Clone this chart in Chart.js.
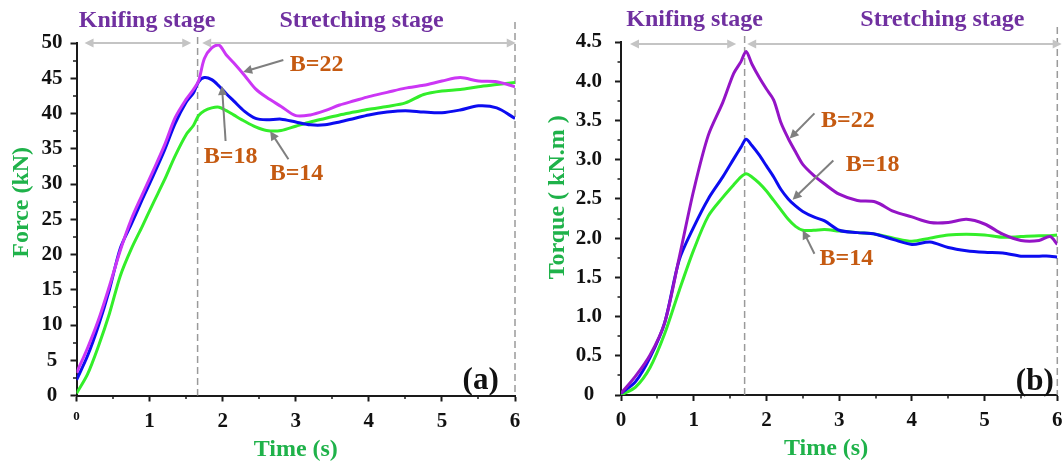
<!DOCTYPE html>
<html>
<head>
<meta charset="utf-8">
<script src="https://cdn.jsdelivr.net/npm/chart.js@4.4.1/dist/chart.umd.min.js"></script>
<style>
  html, body { margin: 0; padding: 0; background: #fff; overflow: hidden; width: 1062px; height: 461px; }
  canvas { position: absolute; top: 0; }
  #chart-a { left: 0; }
  #chart-b { left: 531px; }
</style>
</head>
<body>
<canvas id="chart-a" width="531" height="461"></canvas>
<canvas id="chart-b" width="560" height="461"></canvas>
<script>
// panel (a): force vs time
var timeA = [0, 0.15, 0.3, 0.45, 0.6, 0.75, 0.9, 1.05, 1.2, 1.35, 1.5, 1.6, 1.67, 1.75, 1.85, 1.95, 2.05, 2.15, 2.3, 2.45, 2.6, 2.8, 3.0, 3.2, 3.4, 3.6, 3.8, 4.0, 4.25, 4.5, 4.75, 5.0, 5.25, 5.5, 5.75, 6.0];
var forceB22 = [3.2, 6.7, 10.7, 15.5, 20.6, 25.0, 28.5, 31.9, 35.4, 39.4, 42.0, 43.4, 44.6, 47.8, 49.3, 49.7, 48.3, 47.2, 45.4, 43.5, 42.3, 41.0, 39.7, 39.8, 40.4, 41.2, 41.8, 42.4, 43.0, 43.6, 44.0, 44.6, 45.1, 44.6, 44.5, 43.8];
var forceB18 = [2.2, 5.6, 9.9, 15.0, 20.9, 24.3, 27.8, 31.2, 34.7, 38.6, 41.6, 42.9, 44.5, 45.1, 44.8, 43.9, 42.8, 41.8, 40.3, 39.3, 39.1, 39.2, 38.8, 38.4, 38.4, 38.8, 39.3, 39.8, 40.2, 40.4, 40.2, 40.1, 40.5, 41.1, 40.8, 39.3];
var forceB14 = [0.3, 3.0, 7.0, 11.6, 17.0, 20.8, 24.0, 27.3, 30.5, 34.0, 37.0, 38.3, 39.7, 40.4, 40.8, 40.9, 40.4, 39.8, 38.9, 38.1, 37.6, 37.6, 38.2, 38.8, 39.3, 39.8, 40.2, 40.6, 41.0, 41.5, 42.7, 43.2, 43.4, 43.8, 44.1, 44.4];

// panel (b): torque vs time
var timeB = [0, 0.2, 0.4, 0.6, 0.8, 1.0, 1.2, 1.4, 1.55, 1.65, 1.72, 1.8, 1.9, 2.0, 2.1, 2.2, 2.3, 2.4, 2.5, 2.65, 2.8, 3.0, 3.25, 3.5, 3.75, 4.0, 4.25, 4.5, 4.75, 5.0, 5.25, 5.5, 5.75, 5.9, 6.0];
var torqueB22 = [0.02, 0.24, 0.51, 0.92, 1.75, 2.61, 3.31, 3.73, 4.10, 4.25, 4.38, 4.22, 4.05, 3.90, 3.76, 3.47, 3.27, 3.10, 2.94, 2.80, 2.69, 2.56, 2.48, 2.46, 2.34, 2.27, 2.20, 2.20, 2.24, 2.18, 2.05, 1.97, 1.97, 2.02, 1.92];
var torqueB18 = [0.02, 0.17, 0.48, 0.92, 1.72, 2.14, 2.50, 2.78, 3.01, 3.16, 3.26, 3.18, 3.06, 2.92, 2.78, 2.62, 2.50, 2.41, 2.34, 2.27, 2.22, 2.10, 2.07, 2.05, 1.98, 1.92, 1.95, 1.88, 1.84, 1.82, 1.81, 1.77, 1.77, 1.77, 1.76];
var torqueB14 = [0.00, 0.10, 0.35, 0.78, 1.33, 1.85, 2.28, 2.52, 2.68, 2.78, 2.82, 2.78, 2.70, 2.60, 2.48, 2.36, 2.24, 2.15, 2.10, 2.10, 2.11, 2.09, 2.07, 2.05, 2.00, 1.96, 2.00, 2.04, 2.05, 2.04, 2.01, 2.02, 2.03, 2.03, 2.04];

var seriesLabels = ['B=22', 'B=18', 'B=14'];
var timeTicks = [0, 1, 2, 3, 4, 5, 6];

// stage boundary (s) for each panel
var stageSplitA = 1.657;
var stageSplitB = 1.70;

// callouts: label centre, arrow tail, arrow tip (time, value)
var notesA = [
  { text: 'B=22', at: [3.285, 46.9], from: [2.83, 47.6], to: [2.28, 45.9] },
  { text: 'B=18', at: [2.11, 33.8], from: [2.04, 36.1], to: [1.99, 43.9] },
  { text: 'B=14', at: [3.01, 31.5], from: [2.90, 33.5], to: [2.65, 37.5] }
];
var notesB = [
  { text: 'B=22', at: [3.12, 3.50], from: [2.66, 3.59], to: [2.32, 3.27] },
  { text: 'B=18', at: [3.46, 2.93], from: [2.92, 2.99], to: [2.36, 2.49] },
  { text: 'B=14', at: [3.10, 1.73], from: [2.66, 1.80], to: [2.50, 2.10] }
];

(function () {
  'use strict';

  var SERIF = "'Liberation Serif', 'Times New Roman', serif";
  var AXIS = '#1a1a1a';
  var TITLE_GREEN = '#1fb24a';
  var STAGE_PURPLE = '#7030a0';
  var ORANGE = '#c55a11';

  function toPoints(xs, ys) {
    return xs.map(function (x, i) { return { x: x, y: ys[i] }; });
  }

  function arrowHead(ctx, x1, y1, x2, y2, len, half) {
    var a = Math.atan2(y2 - y1, x2 - x1);
    ctx.beginPath();
    ctx.moveTo(x2, y2);
    ctx.lineTo(x2 - len * Math.cos(a) + half * Math.sin(a), y2 - len * Math.sin(a) - half * Math.cos(a));
    ctx.lineTo(x2 - len * Math.cos(a) - half * Math.sin(a), y2 - len * Math.sin(a) + half * Math.cos(a));
    ctx.closePath();
    ctx.fill();
  }

  function arrow(ctx, x1, y1, x2, y2, color, width, both) {
    ctx.strokeStyle = color;
    ctx.fillStyle = color;
    ctx.lineWidth = width;
    var a = Math.atan2(y2 - y1, x2 - x1);
    var c = Math.cos(a) * 6, s = Math.sin(a) * 6;
    ctx.beginPath();
    ctx.moveTo(both ? x1 + c : x1, both ? y1 + s : y1);
    ctx.lineTo(x2 - c, y2 - s);
    ctx.stroke();
    arrowHead(ctx, x1, y1, x2, y2, 9, 4.5);
    if (both) arrowHead(ctx, x2, y2, x1, y1, 9, 4.5);
  }

  var decorPlugin = {
    id: 'panelDecor',
    beforeDatasetsDraw: function (chart, args, o) {
      var ctx = chart.ctx, xs = chart.scales.x, area = chart.chartArea;
      ctx.save();
      ctx.strokeStyle = '#9a9a9a';
      ctx.lineWidth = 1.5;
      ctx.setLineDash([7, 4]);
      [[o.split, o.splitRise], [6, o.endRise]].forEach(function (d) {
        var px = xs.getPixelForValue(d[0]);
        ctx.beginPath();
        ctx.moveTo(px, area.top - d[1]);
        ctx.lineTo(px, area.bottom);
        ctx.stroke();
      });
      ctx.restore();
    },
    afterDatasetsDraw: function (chart, args, o) {
      var ctx = chart.ctx, xs = chart.scales.x, ys = chart.scales.y, area = chart.chartArea;
      ctx.save();

      // minor ticks
      ctx.strokeStyle = AXIS;
      ctx.lineWidth = 1.5;
      var v;
      for (v = o.yStep / 2; v < o.yMax; v += o.yStep) {
        var py = Math.round(ys.getPixelForValue(v));
        ctx.beginPath(); ctx.moveTo(area.left, py); ctx.lineTo(area.left - 3.5, py); ctx.stroke();
      }
      for (v = 0.5; v < 6; v += 1) {
        var px = Math.round(xs.getPixelForValue(v));
        ctx.beginPath(); ctx.moveTo(px, area.bottom); ctx.lineTo(px, area.bottom + 3.5); ctx.stroke();
      }

      // stage arrows and labels
      var ay = area.top + o.arrowDy;
      arrow(ctx, xs.getPixelForValue(o.knifeArrow[0]), ay, xs.getPixelForValue(o.knifeArrow[1]), ay, '#c4c4c4', 2, true);
      arrow(ctx, xs.getPixelForValue(o.stretchArrow[0]), ay, xs.getPixelForValue(o.stretchArrow[1]), ay, '#c4c4c4', 2, true);
      ctx.fillStyle = STAGE_PURPLE;
      ctx.font = 'bold 24px ' + SERIF;
      ctx.textAlign = 'center';
      ctx.textBaseline = 'middle';
      ctx.fillText('Knifing stage', xs.getPixelForValue(o.knifeText), area.top - 22);
      ctx.fillText('Stretching stage', xs.getPixelForValue(o.stretchText), area.top - 22);

      // callouts
      o.notes.forEach(function (n) {
        arrow(ctx, xs.getPixelForValue(n.from[0]), ys.getPixelForValue(n.from[1]),
          xs.getPixelForValue(n.to[0]), ys.getPixelForValue(n.to[1]), '#7f7f7f', 2, false);
        ctx.fillStyle = ORANGE;
        ctx.font = 'bold 24px ' + SERIF;
        ctx.fillText(n.text, xs.getPixelForValue(n.at[0]), ys.getPixelForValue(n.at[1]));
      });

      // panel letter
      ctx.fillStyle = '#111';
      ctx.font = 'bold 31px ' + SERIF;
      ctx.fillText(o.letter, xs.getPixelForValue(o.letterAt[0]), ys.getPixelForValue(o.letterAt[1]));

      // axis titles
      ctx.fillStyle = TITLE_GREEN;
      ctx.font = 'bold 24px ' + SERIF;
      ctx.fillText('Time (s)', xs.getPixelForValue(o.xTitleAt), area.bottom + 54);
      ctx.translate(area.left - o.yTitleDx, ys.getPixelForValue(o.yTitleAt));
      ctx.rotate(-Math.PI / 2);
      ctx.fillText(o.yTitle, 0, 0);
      ctx.restore();
    }
  };

  function makePanel(canvasId, p) {
    var tickFont = { family: SERIF, size: 21, weight: 'bold' };
    var smallFont = { family: SERIF, size: 13, weight: 'bold' };
    return new Chart(document.getElementById(canvasId), {
      type: 'line',
      data: {
        datasets: p.series.map(function (s, i) {
          return {
            label: seriesLabels[i],
            data: toPoints(p.time, s),
            borderColor: p.colors[i],
            borderWidth: 3,
            pointRadius: 0,
            tension: 0.3,
            fill: false
          };
        })
      },
      plugins: [decorPlugin],
      options: {
        responsive: false,
        animation: false,
        layout: { padding: p.padding },
        plugins: {
          legend: { display: false },
          tooltip: { enabled: false },
          panelDecor: p.decor
        },
        scales: {
          x: {
            type: 'linear',
            min: 0,
            max: 6,
            border: { color: AXIS, width: 2 },
            grid: { drawOnChartArea: false, drawTicks: true, tickLength: 6, tickColor: AXIS, tickWidth: 2 },
            afterBuildTicks: function (scale) {
              scale.ticks = timeTicks.map(function (t) { return { value: t }; });
            },
            ticks: {
              color: '#111',
              padding: 7,
              maxRotation: 0,
              autoSkip: false,
              font: function (c) {
                return (p.smallZero && c.tick && c.tick.value === 0) ? smallFont : tickFont;
              },
              callback: function (val) { return String(val); }
            },
            afterFit: function (scale) { scale.height = p.xAxisHeight; }
          },
          y: {
            min: 0,
            max: p.yMax,
            border: { color: AXIS, width: 2 },
            grid: { drawOnChartArea: false, drawTicks: true, tickLength: 6, tickColor: AXIS, tickWidth: 2 },
            ticks: {
              stepSize: p.yStep,
              color: '#111',
              padding: p.yPad,
              crossAlign: 'center',
              font: tickFont,
              callback: p.yFormat
            },
            afterFit: function (scale) { scale.width = p.yAxisWidth; }
          }
        }
      }
    });
  }

  makePanel('chart-a', {
    time: timeA,
    series: [forceB22, forceB18, forceB14],
    colors: ['#cc36f5', '#0c0cf0', '#33ee2a'],
    yMax: 50,
    yStep: 5,
    yPad: 8,
    yAxisWidth: 76.5,
    xAxisHeight: 65.5,
    smallZero: true,
    padding: { top: 43, right: 16, left: 0, bottom: 0 },
    yFormat: function (val) { return String(val); },
    decor: {
      split: stageSplitA, splitRise: 6, endRise: 21, arrowDy: 0,
      yStep: 5, yMax: 50,
      knifeArrow: [0.11, 1.57], stretchArrow: [1.72, 6.01],
      knifeText: 0.966, stretchText: 3.9,
      notes: notesA,
      letter: '(a)', letterAt: [5.53, 2.0],
      xTitleAt: 3.0, yTitle: 'Force (kN)', yTitleAt: 27.4, yTitleDx: 54.5
    }
  });

  makePanel('chart-b', {
    time: timeB,
    series: [torqueB22, torqueB18, torqueB14],
    colors: ['#9414c6', '#0c0cf0', '#33ee2a'],
    yMax: 4.5,
    yStep: 0.5,
    yPad: 13,
    yAxisWidth: 90,
    xAxisHeight: 66,
    smallZero: false,
    padding: { top: 42, right: 33.7, left: 0, bottom: 0 },
    yFormat: function (val) { return val === 0 ? '0' : val.toFixed(1); },
    decor: {
      split: stageSplitB, splitRise: 6, endRise: 15, arrowDy: 2,
      yStep: 0.5, yMax: 4.5,
      knifeArrow: [0.124, 1.584], stretchArrow: [1.735, 6.06],
      knifeText: 1.012, stretchText: 4.42,
      notes: notesB,
      letter: '(b)', letterAt: [5.69, 0.17],
      xTitleAt: 2.82, yTitle: 'Torque ( kN.m )', yTitleAt: 2.52, yTitleDx: 63
    }
  });
})();
</script>
</body>
</html>
